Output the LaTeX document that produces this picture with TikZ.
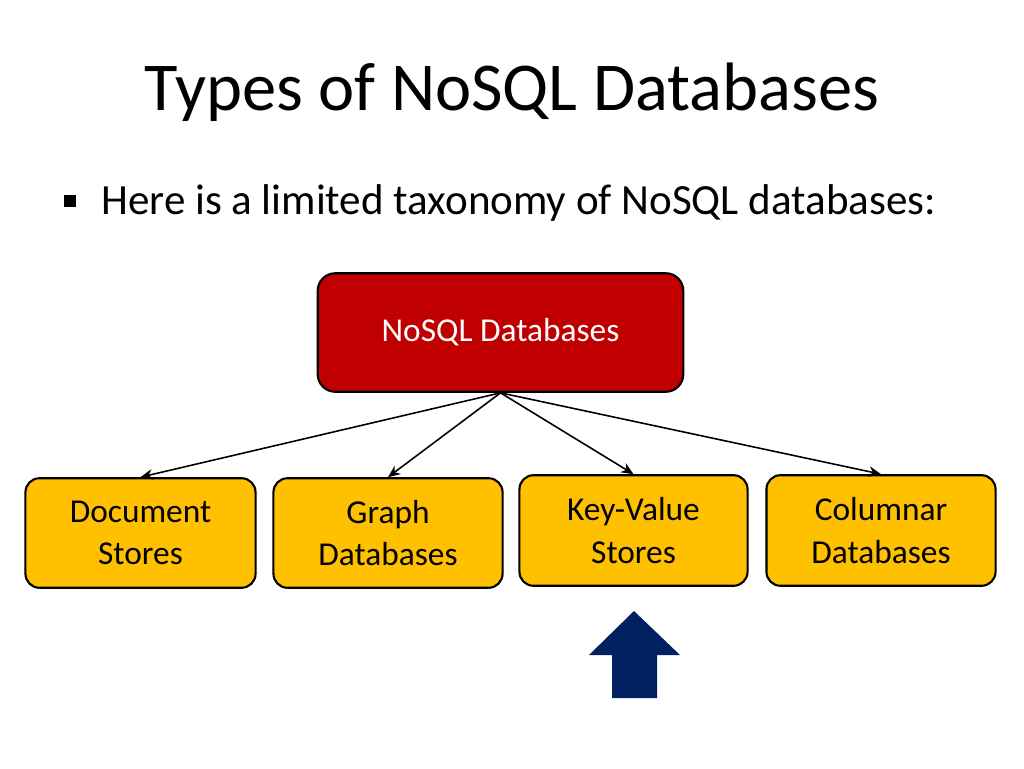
\documentclass[tikz,border=0pt]{standalone}
\usepackage{fontspec}
\setmainfont{Carlito}
\usetikzlibrary{arrows.meta}
\begin{document}
\begin{tikzpicture}[x=0.02cm,y=-0.02cm,
    catbox/.style={draw=black,line width=1.2pt,rounded corners=8pt,fill=gold,
      minimum width=230\pgflinewidth,align=center,font=\fontsize{19}{24}\selectfont},
    link/.style={-{Stealth[length=7pt,width=6pt]},line width=0.9pt}]
  \definecolor{gold}{HTML}{FFC000}
  \definecolor{darkred}{HTML}{C00000}
  \definecolor{navy}{HTML}{002060}
  \useasboundingbox (0,0) rectangle (1024,768);

  % title and bullet
  \node[font=\fontsize{39}{46}\selectfont] (title) at (512,92) {Types of NoSQL Databases};
  \fill (64,195) rectangle (76,207);
  \node[anchor=base west,font=\fontsize{24.5}{29}\selectfont,inner sep=0] (intro) at (101,214)
    {Here is a limited taxonomy of NoSQL databases:};

  % root
  \node[draw=black,line width=1.2pt,rounded corners=10pt,fill=darkred,text=white,
    minimum width=367*0.567pt,minimum height=119*0.567pt,font=\fontsize{19}{24}\selectfont]
    (root) at (500.5,332.5) {NoSQL Databases};

  % categories
  \node[catbox,minimum width=231*0.567pt,minimum height=110*0.567pt] (doc) at (140.5,533) {Document\\Stores};
  \node[catbox,minimum width=230*0.567pt,minimum height=110*0.567pt] (graph) at (388,533) {Graph\\Databases};
  \node[catbox,minimum width=229*0.567pt,minimum height=111*0.567pt] (kv) at (633.5,530.5) {Key-Value\\Stores};
  \node[catbox,minimum width=230*0.567pt,minimum height=111*0.567pt] (col) at (881,530.5) {Columnar\\Databases};

  \coordinate (fork) at (root.south);
  \foreach \c in {doc,graph,kv,col}
    \draw[link] (fork) -- (\c.north);

  % pointer
  \fill[navy] (612,698) -- (612,655) -- (589,655) -- (634,611) -- (680,655) -- (657,655) -- (657,698) -- cycle;
\end{tikzpicture}
\end{document}
